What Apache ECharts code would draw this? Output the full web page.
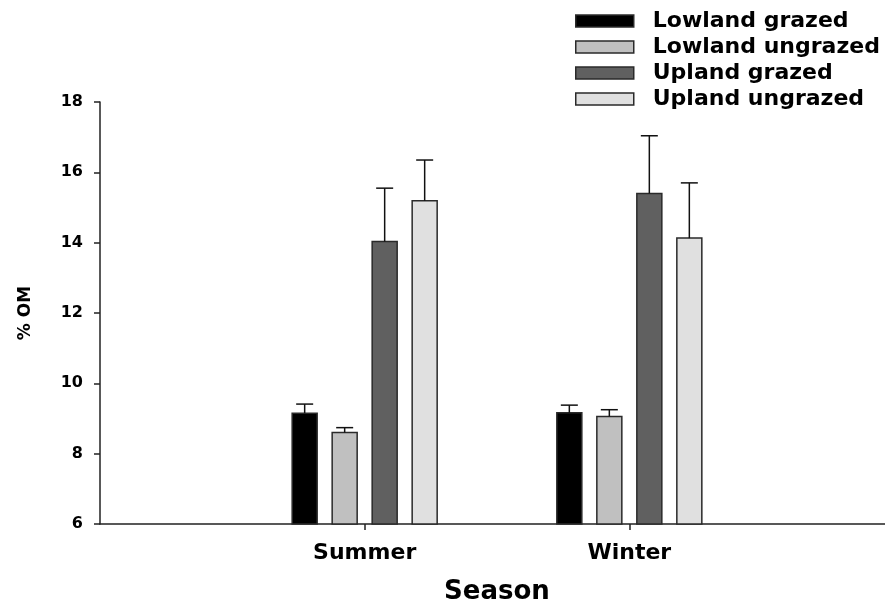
<!DOCTYPE html>
<html>
<head>
<meta charset="utf-8">
<script src="https://cdn.jsdelivr.net/npm/echarts@6/dist/echarts.min.js"></script>
<style>
  html, body { margin: 0; padding: 0; background: #fff; }
  #chart { width: 885px; height: 604px; }
</style>
</head>
<body>
<div id="chart"></div>
<script>
// seasons sit at x = 1 and 2 on a value axis 0..3 (axis runs off the right edge)
const seasons = ['Summer', 'Winter']
const seasonPos = [1, 2]
const groups = ['Lowland grazed', 'Lowland ungrazed', 'Upland grazed', 'Upland ungrazed']

// mean %OM and upper error (SE) per season
const lowlandGrazed = [9.15, 9.16]
const lowlandGrazedErr = [0.26, 0.22]
const lowlandUngrazed = [8.60, 9.06]
const lowlandUngrazedErr = [0.14, 0.19]
const uplandGrazed = [14.03, 15.40]
const uplandGrazedErr = [1.52, 1.64]
const uplandUngrazed = [15.19, 14.13]
const uplandUngrazedErr = [1.16, 1.57]

const yTicks = [6, 8, 10, 12, 14, 16, 18]

const means = [lowlandGrazed, lowlandUngrazed, uplandGrazed, uplandUngrazed]
const errs = [lowlandGrazedErr, lowlandUngrazedErr, uplandGrazedErr, uplandUngrazedErr]
const fills = ['#000000', '#c0c0c0', '#606060', '#e0e0e0']
const offsets = [-60, -20, 20, 60]   // px from the season centre
const barW = 25
const edge = '#2a2a2a'

const chart = echarts.init(document.getElementById('chart'))

const series = []
groups.forEach((name, i) => {
  series.push({
    name: name,
    type: 'custom',
    itemStyle: { color: fills[i], borderColor: edge, borderWidth: 1.5 },
    data: seasonPos.map((x, k) => [x, means[i][k]]),
    renderItem (params, api) {
      const top = api.coord([api.value(0), api.value(1)])
      const base = api.coord([api.value(0), yTicks[0]])
      return {
        type: 'rect',
        shape: { x: top[0] + offsets[i] - barW / 2, y: top[1], width: barW, height: base[1] - top[1] },
        style: { fill: fills[i], stroke: edge, lineWidth: 1.5 }
      }
    }
  })
  series.push({
    name: name + ' err',
    type: 'custom',
    silent: true,
    data: seasonPos.map((x, k) => [x, means[i][k], means[i][k] + errs[i][k]]),
    renderItem (params, api) {
      const lo = api.coord([api.value(0), api.value(1)])
      const hi = api.coord([api.value(0), api.value(2)])
      const cx = lo[0] + offsets[i]
      const st = { stroke: '#111', lineWidth: 1.5 }
      return {
        type: 'group',
        children: [
          { type: 'line', shape: { x1: cx, y1: lo[1], x2: cx, y2: hi[1] }, style: st },
          { type: 'line', shape: { x1: cx - 8.5, y1: hi[1], x2: cx + 8.5, y2: hi[1] }, style: st }
        ]
      }
    }
  })
})

chart.setOption({
  backgroundColor: '#fff',
  animation: false,
  legend: {
    orient: 'vertical',
    left: 570,
    top: 5,
    itemWidth: 58,
    itemHeight: 12,
    itemGap: 4,
    textStyle: {
      fontFamily: 'DejaVu Sans',
      fontWeight: 'bold',
      fontSize: 22,
      lineHeight: 22,
      color: '#000',
      padding: [0, 0, 0, 14]
    },
    data: groups.map((g, i) => ({
      name: g,
      icon: 'rect',
      itemStyle: { color: fills[i], borderColor: edge, borderWidth: 1.5 }
    }))
  },
  grid: { left: 100, top: 102, width: 794, height: 422, containLabel: false, outerBoundsMode: 'none' },
  xAxis: {
    type: 'value',
    min: 0,
    max: 3,
    interval: 1,
    name: 'Season',
    nameLocation: 'middle',
    nameGap: 55,
    nameTextStyle: { fontFamily: 'DejaVu Sans', fontWeight: 'bold', fontSize: 26, color: '#000' },
    splitLine: { show: false },
    axisLine: { show: true, lineStyle: { color: '#222', width: 1.5 } },
    axisTick: { show: true, customValues: seasonPos, length: 6, lineStyle: { color: '#222', width: 1.5 } },
    axisLabel: {
      customValues: seasonPos,
      margin: 18,
      fontFamily: 'DejaVu Sans',
      fontWeight: 'bold',
      fontSize: 22,
      color: '#000',
      formatter: v => seasons[seasonPos.indexOf(v)] || ''
    }
  },
  yAxis: {
    type: 'value',
    min: yTicks[0],
    max: yTicks[yTicks.length - 1],
    interval: 2,
    name: '% OM',
    nameLocation: 'middle',
    nameGap: 66,
    nameRotate: 90,
    nameTextStyle: { fontFamily: 'DejaVu Sans', fontWeight: 'bold', fontSize: 17, color: '#000' },
    splitLine: { show: false },
    axisLine: { show: true, lineStyle: { color: '#222', width: 1.5 } },
    axisTick: { show: true, length: 6, lineStyle: { color: '#222', width: 1.5 } },
    axisLabel: {
      margin: 17,
      fontFamily: 'DejaVu Sans',
      fontWeight: 'bold',
      fontSize: 16,
      color: '#000'
    }
  },
  series: series
})
</script>
</body>
</html>
